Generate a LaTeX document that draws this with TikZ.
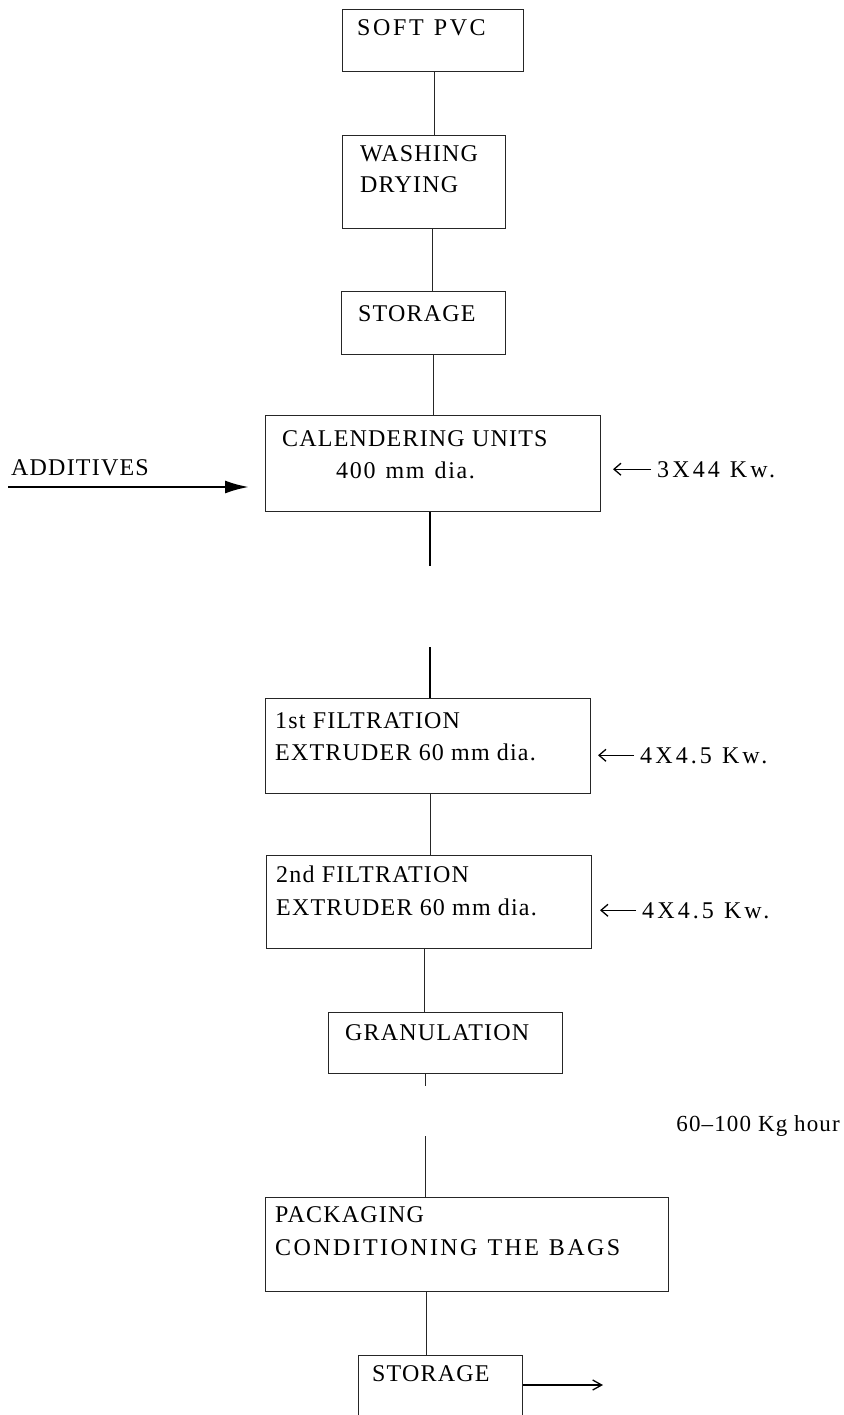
\documentclass[tikz,border=0pt]{standalone}
\usepackage{fontspec}
\setmainfont{Liberation Serif}[LetterSpace=5]
\usetikzlibrary{arrows.meta}
\begin{document}
\begin{tikzpicture}[x=1pt,y=-1pt,
  box/.style={draw=black!85, line width=1.4pt, anchor=north west, inner sep=0pt},
  txt/.style={anchor=base west, inner sep=0pt, font=\fontsize{24}{28}\selectfont},
  spaced/.style={anchor=base west, inner sep=0pt, font={\fontsize{24}{28}\selectfont\addfontfeatures{LetterSpace=#1}\spaceskip=10pt}},
  link/.style={draw=black!85, line width=1.2pt},
  heavy/.style={draw=black, line width=2pt},
  feed/.style={draw=black, line width=2.4pt, -{Latex[length=24pt,width=13pt]}},
  pwr/.style={draw=black, line width=1.3pt, -{Straight Barb[length=7pt,width=12pt]}},
  outarr/.style={draw=black, line width=1.3pt, -{Straight Barb[length=9pt,width=10pt]}}
]
\clip (0,0) rectangle (843,1415);
\fill[white] (0,0) rectangle (843,1415);

% boxes
\node[box, minimum width=181pt, minimum height=62pt] (b1) at (342,9) {};
\node[box, minimum width=163pt, minimum height=93pt] (b2) at (342,135) {};
\node[box, minimum width=164pt, minimum height=63pt] (b3) at (341,291) {};
\node[box, minimum width=335pt, minimum height=96pt] (b4) at (265,415) {};
\node[box, minimum width=325pt, minimum height=95pt] (b5) at (265,698) {};
\node[box, minimum width=325pt, minimum height=93pt] (b6) at (266,855) {};
\node[box, minimum width=234pt, minimum height=61pt] (b7) at (328,1012) {};
\node[box, minimum width=403pt, minimum height=94pt] (b8) at (265,1197) {};
\node[box, minimum width=164pt, minimum height=110pt] (b9) at (358,1355) {};

% texts
\node[spaced=11] (t1) at (357,36) {SOFT PVC};
\node[txt] (t2a) at (360,162) {WASHING};
\node[txt] (t2b) at (360,193) {DRYING};
\node[txt] (t3) at (358,321) {STORAGE};
\node[txt] (t4a) at (282,446) {CALENDERING UNITS};
\node[spaced=7] (t4b) at (336,478) {400 mm dia.};
\node[txt] (t5a) at (275,728) {1st FILTRATION};
\node[txt] (t5b) at (275,760) {EXTRUDER 60 mm dia.};
\node[txt] (t6a) at (276,882) {2nd FILTRATION};
\node[txt] (t6b) at (276,915) {EXTRUDER 60 mm dia.};
\node[txt] (t7) at (345,1040) {GRANULATION};
\node[txt] (t8a) at (275,1222) {PACKAGING};
\node[spaced=10] (t8b) at (275,1255) {CONDITIONING THE BAGS};
\node[txt] (t9) at (372,1381) {STORAGE};

% side labels
\node[txt] (add) at (11,475) {ADDITIVES};
\node[spaced=13] (k1) at (657,477) {3X44 Kw.};
\node[spaced=13] (k2) at (640,763) {4X4.5 Kw.};
\node[spaced=13] (k3) at (642,918) {4X4.5 Kw.};
\node[anchor=base east, inner sep=0pt, font=\fontsize{23}{28}\selectfont] (r1) at (840,1131) {60--100 Kg hour};

% connectors
\draw[link] ([xshift=1.5pt]b1.south) -- ([xshift=1.5pt]b1.south |- b2.north);
\draw[link] ([xshift=8.5pt]b2.south) -- ([xshift=8.5pt]b2.south |- b3.north);
\draw[link] ([xshift=10pt]b3.south) -- ([xshift=10pt]b3.south |- b4.north);
\coordinate (g1) at (430,566);
\coordinate (g2) at (430,647);
\draw[heavy] (b4.south -| g1) -- (g1);
\draw[heavy] (g2) -- (g2 |- b5.north);
\draw[link] ([xshift=2.5pt]b5.south) -- ([xshift=2.5pt]b5.south |- b6.north);
\draw[link] ([xshift=-4.5pt]b6.south) -- ([xshift=-4.5pt]b6.south |- b7.north);
\draw[link, dash pattern=on 12pt off 50pt on 70pt] ([xshift=-20pt]b7.south) -- ([xshift=-20pt]b7.south |- b8.north);
\draw[link] ([xshift=-41pt]b8.south) -- ([xshift=-41pt]b8.south |- b9.north);

% arrows
\coordinate (a0) at (8,487);
\draw[feed] (a0) -- ([xshift=-16pt]a0 -| b4.west);
\draw[pwr] ([xshift=-6pt]k1.west) -- ++(-38,0);
\draw[pwr] ([xshift=-6pt]k2.west) -- ++(-36,0);
\draw[pwr] ([xshift=-6pt]k3.west) -- ++(-36,0);
\coordinate (o1) at (603,1385);
\draw[outarr] (b9.east |- o1) -- (o1);
\end{tikzpicture}
\end{document}
